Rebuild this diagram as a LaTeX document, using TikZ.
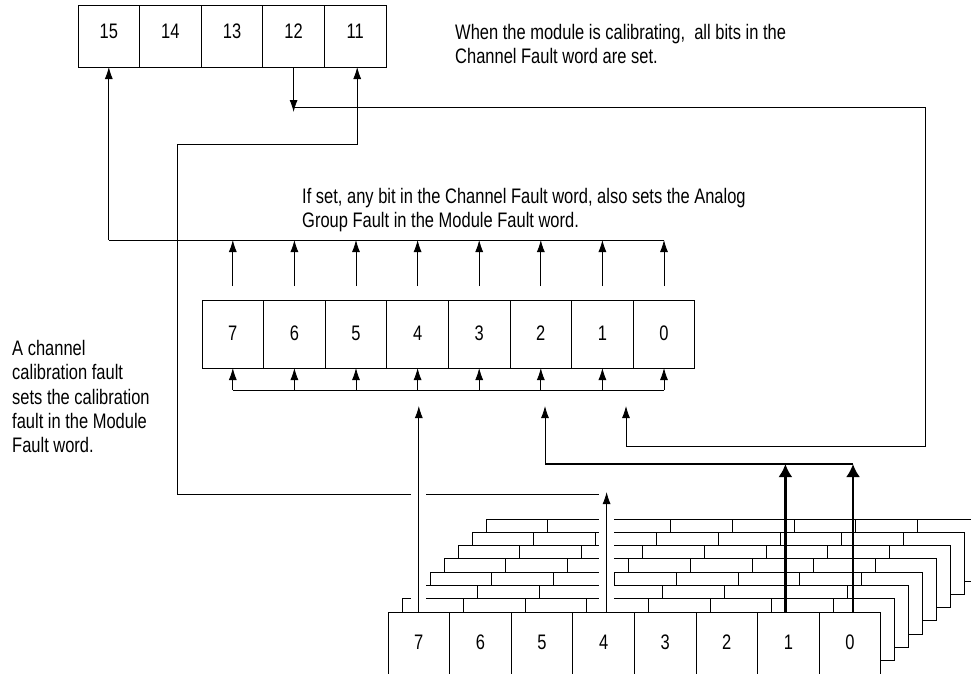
\documentclass[tikz,border=0pt]{standalone}
\usepackage{fontspec}
\setmainfont{Liberation Sans}[FakeStretch=0.785]
\usetikzlibrary{positioning, calc, arrows.meta}

\begin{document}
\begin{tikzpicture}[x=1pt, y=-1pt,
    font=\fontsize{21}{24.3}\selectfont,
    node distance=0pt,
    bit/.style={draw, line width=0.8pt, fill=white, inner sep=0pt, outer sep=0pt,
                minimum width=61.6pt, text height=15pt},
    topbit/.style={bit, minimum height=62pt, text depth=10pt},
    midbit/.style={bit, minimum height=68pt, text depth=2pt},
    lowbit/.style={bit, minimum height=62pt, text depth=2pt},
    wire/.style={line width=0.8pt},
    arr/.style={wire, -{Latex[length=12pt, width=8pt]}},
    fatwire/.style={line width=2.4pt},
    fatarr/.style={fatwire, -{Latex[length=13pt, width=14pt]}},
    halo/.style={white, line width=15pt},
    note/.style={align=left, inner sep=0pt, anchor=north west}
]
\useasboundingbox (0,0) rectangle (971,673);
\clip (0,0) rectangle (971,673);

% ============ Module Fault word (top) ============
\node[topbit, anchor=north west] (mf15) at (78,5) {15};
\foreach \b [remember=\b as \prev (initially 15)] in {14,...,11}
  \node[topbit, right=of mf\prev] (mf\b) {\b};

% ============ Channel Fault word (middle) ============
\node[midbit, anchor=north west] (cf7) at (202,300) {7};
\foreach \b [remember=\b as \prev (initially 7)] in {6,...,0}
  \node[midbit, right=of cf\prev] (cf\b) {\b};

% ============ Channel Status words (stack behind) ============
\foreach \k in {7,...,1}{
  \begin{scope}[shift={(14*\k,-13.3*\k)}]
    \foreach \j in {0,...,7}
      \node[lowbit, anchor=north west] at ({388+61.6*\j},612) {};
  \end{scope}
}

% Levels of the wires
\coordinate (busA) at (0,240);
\coordinate (busB) at (0,390);
\coordinate (drop) at (0,112);
\coordinate (calA) at (925,107);
\coordinate (calB) at (925,446);
\coordinate (calTip) at (626,406);
\coordinate (calF) at (177,144);
\coordinate (calG) at (177,494);
\coordinate (calH) at (599,494);
\coordinate (fatL) at (545,464);
\coordinate (haloTop) at (0,488);

% Upper collector into bit 15
\draw[wire] (mf15.south |- busA) -- (cf0.north |- busA);
\draw[arr] (mf15.south |- busA) -- (mf15.south);
\foreach \b in {7,...,0}
  \draw[arr] ([yshift=14pt]cf\b.north) -- (cf\b.north |- busA);

% Lower collector
\draw[wire] (cf7.south |- busB) -- (cf0.south |- busB);
\foreach \b in {7,...,0}
  \draw[arr] (cf\b.south |- busB) -- (cf\b.south);

% Bit 12 (calibrating) sets all channel bits
\draw[arr] (mf12.south) -- (mf12.south |- drop);
\draw[arr] (mf12.south |- calA) -- (calA) -- (calB) -| (calTip);

% Calibration fault into bit 11
\draw[arr] (calH) -- (calG) -- (calF) -| ([xshift=2pt]mf11.south);

% ============ Channel Status word (front) ============
\node[lowbit, anchor=north west] (cs7) at (388,612) {7};
\foreach \b [remember=\b as \prev (initially 7)] in {6,...,0}
  \node[lowbit, right=of cs\prev] (cs\b) {\b};

\coordinate (c4up) at ([xshift=3pt]cs4.north);
\coordinate (c1up) at ([xshift=-3pt]cs1.north);
\coordinate (c0up) at ([xshift=3pt]cs0.north);

% gaps where the wires cross the stack
\draw[halo] ([yshift=1pt]cs7.north) -- (cs7.north |- haloTop);
\draw[halo] ([yshift=1pt]c4up) -- (c4up |- haloTop);

\draw[arr] (cs7.north) -- (cs7.north |- calTip);
\draw[arr] (c4up) -- ([yshift=2pt]c4up |- calH);

% Thick feeds
\draw[fatwire] (fatL) -- (c0up |- fatL);
\draw[arr] (fatL) -- (fatL |- calTip);
\draw[fatarr] (c1up) -- (c1up |- fatL);
\draw[fatarr] (c0up) -- (c0up |- fatL);

% Notes
\node[note] (calnote) at (455,24) {When the module is calibrating,\ \ all bits in the\\Channel Fault word are set.};
\node[note] (grpnote) at (302,188) {If set, any bit in the Channel Fault word, also sets the Analog\\Group Fault in the Module Fault word.};
\node[note] (chnote) at (12,340) {A channel\\calibration fault\\sets the calibration\\fault in the Module\\Fault word.};
\end{tikzpicture}
\end{document}
